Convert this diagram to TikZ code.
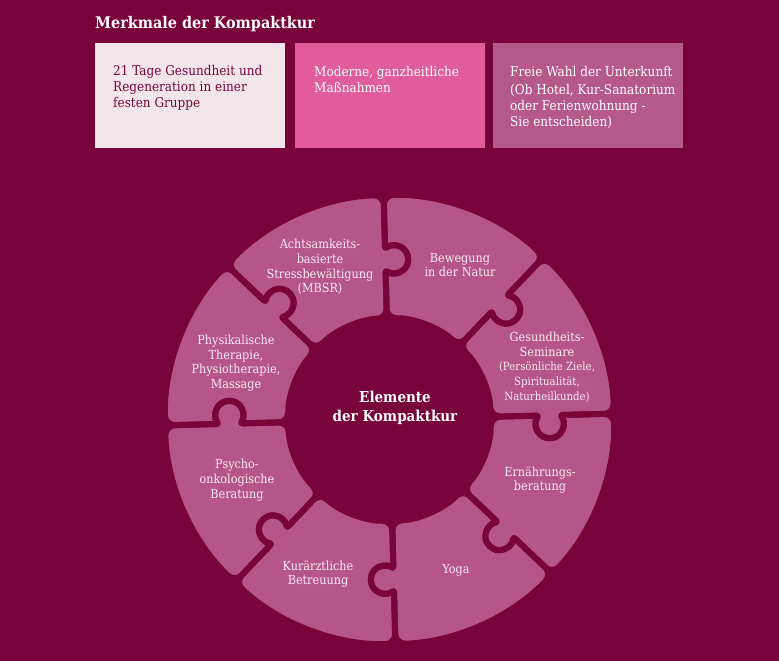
\documentclass[tikz,border=0pt]{standalone}
\usepackage{fontspec}
\setmainfont[FakeStretch=0.9]{DejaVu Serif}
\definecolor{bg}{HTML}{780439}
\definecolor{piecepink}{HTML}{B55589}
\definecolor{boxone}{HTML}{F2E6EB}
\definecolor{boxtwo}{HTML}{E05C9A}
\definecolor{boxthree}{HTML}{B5588A}
\definecolor{ptxt}{HTML}{F9ECF3}
\begin{document}
\begin{tikzpicture}[x=1pt,y=1pt,
  piecepath/.style={insert path={
    (0:125) [rounded corners=2.5pt] -- (0:149.28)
    arc[start angle=140.0, end angle=400.0, radius=14]
    [rounded corners=10pt] -- (0:224.5)
    arc[start angle=0, end angle=45, radius=224.5]
    [rounded corners=2.5pt] -- (45:170.72)
    arc[start angle=85.0, end angle=-175.0, radius=14]
    [rounded corners=10pt] -- (45:101)
    arc[start angle=45, end angle=0, radius=101] -- cycle}},
  ptext/.style={text=ptxt, align=center, inner sep=0pt,
    font=\fontsize{12.5}{14.7}\selectfont},
  boxtext/.style={align=left, anchor=north west, inner sep=0pt,
    font=\fontsize{13.4}{16}\selectfont}]
\useasboundingbox (0,0) rectangle (779,-661);
\fill[bg] (0,0) rectangle (779,-661);
\node[anchor=base west, inner sep=0pt, text=white,
  font=\fontsize{16}{19}\selectfont\bfseries] (title) at (95,-29) {Merkmale der Kompaktkur};
\fill[boxone] (95,-43) rectangle (285,-148);
\fill[boxtwo] (295,-43) rectangle (485,-148);
\fill[boxthree] (493,-43) rectangle (683,-148);
\node[boxtext, text=bg] (t1) at (113,-65) {21 Tage Gesundheit und\\Regeneration in einer\\festen Gruppe};
\node[boxtext, text=white] (t2) at (314,-66) {Moderne, ganzheitliche\\Maßnahmen};
\node[boxtext, text=white] (t3) at (510,-66) {Freie Wahl der Unterkunft\\[2pt](Ob Hotel, Kur-Sanatorium\\oder Ferienwohnung -\\Sie entscheiden)};
\begin{scope}[shift={(389.5,-419.5)}]
  \foreach \k in {0,...,7} {
    \fill[piecepink, rotate=\k*45+1.5] [piecepath];
  }
  \foreach \k in {0,...,7} {
    \draw[bg, line width=6pt, line join=round, rotate=\k*45+1.5] [piecepath];
  }
\end{scope}
\node[ptext] (p1) at (320,-267) {Achtsamkeits-\\basierte\\Stressbewältigung\\(MBSR)};
\node[ptext] (p2) at (460,-265) {Bewegung\\in der Natur};
\node[ptext] (p3) at (547,-367) {Gesundheits-\\Seminare\\{\fontsize{11.3}{13.5}\selectfont (Persönliche Ziele,}\\{\fontsize{11.3}{13.5}\selectfont Spiritualität,}\\{\fontsize{11.3}{13.5}\selectfont Naturheilkunde)}};
\node[ptext] (p4) at (236,-363) {Physikalische\\Therapie,\\Physiotherapie,\\Massage};
\node[ptext] (p5) at (540,-480) {Ernährungs-\\beratung};
\node[ptext] (p6) at (237,-480) {Psycho-\\onkologische\\Beratung};
\node[ptext] (p7) at (318,-574) {Kurärztliche\\Betreuung};
\node[ptext] (p8) at (456,-570) {Yoga};
\node[align=center, inner sep=0pt, text=white,
  font=\fontsize{15}{19}\selectfont\bfseries] (center) at (395,-408) {Elemente\\der Kompaktkur};
\end{tikzpicture}
\end{document}
